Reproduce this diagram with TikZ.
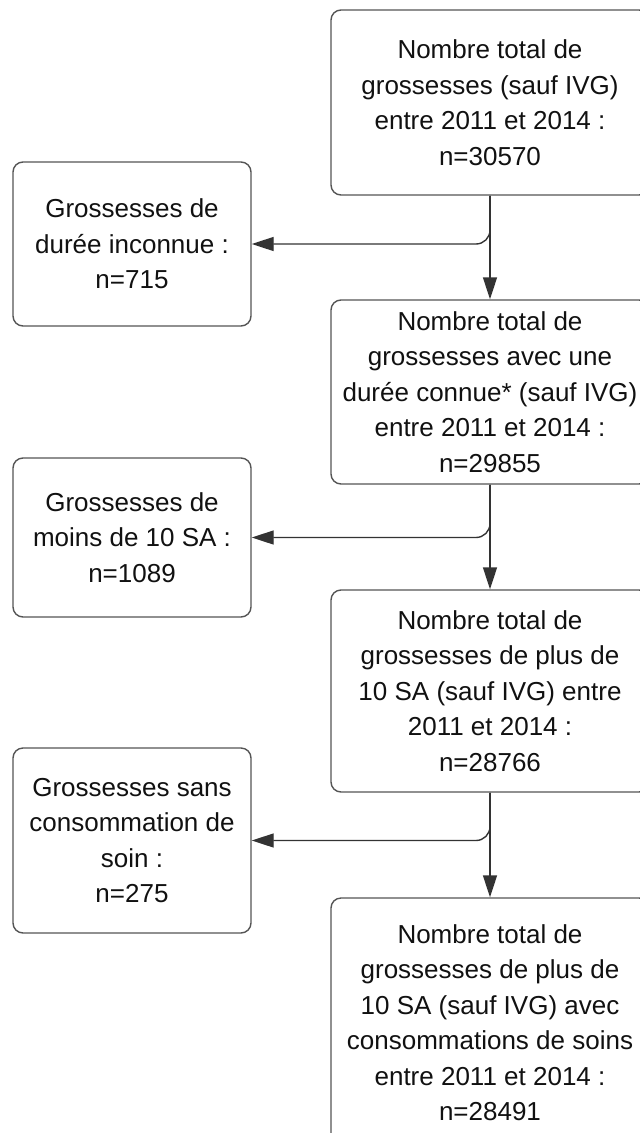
\documentclass[tikz,border=0pt]{standalone}
\usepackage{fontspec}
\setmainfont{Liberation Sans}
\usetikzlibrary{arrows.meta}
\definecolor{boxgray}{HTML}{555555}
\definecolor{linecol}{HTML}{333333}
\definecolor{textcol}{HTML}{111111}
\begin{document}
\begin{tikzpicture}[x=1pt,y=-1pt,
  box/.style={draw=boxgray, line width=1.4pt, rounded corners=10pt, align=center,
    text=textcol, font=\fontsize{26}{35.5}\selectfont, inner sep=0pt},
  rbox/.style={box, minimum width=318pt},
  lbox/.style={box, minimum width=238pt},
  flow/.style={draw=linecol, line width=1.4pt, -{Triangle[length=22pt,width=14pt]}},
  branch/.style={flow, rounded corners=14pt}]
\useasboundingbox (0,0) rectangle (640,1133);
\fill[white] (0,0) rectangle (640,1133);
\clip (0,0) rectangle (640,1133);

\node[rbox, minimum height=185pt] (r1) at (490,102.5)
  {Nombre total de\\grossesses (sauf IVG)\\entre 2011 et 2014 :\\n=30570};
\node[rbox, minimum height=184pt] (r2) at (490,392)
  {Nombre total de\\grossesses avec une\\durée connue* (sauf IVG)\\entre 2011 et 2014 :\\n=29855};
\node[rbox, minimum height=202pt] (r3) at (490,691)
  {Nombre total de\\grossesses de plus de\\10 SA (sauf IVG) entre\\2011 et 2014 :\\n=28766};
\node[rbox, minimum height=249pt] (r4) at (490,1022.5)
  {Nombre total de\\grossesses de plus de\\10 SA (sauf IVG) avec\\consommations de soins\\entre 2011 et 2014 :\\n=28491};

\node[lbox, minimum height=164pt] (l1) at (132,244)
  {Grossesses de\\durée inconnue :\\n=715};
\node[lbox, minimum height=159pt] (l2) at (132,537.5)
  {Grossesses de\\moins de 10 SA :\\n=1089};
\node[lbox, minimum height=185pt] (l3) at (132,840.5)
  {Grossesses sans\\consommation de\\soin :\\n=275};

\draw[flow] (r1.south) -- (r2.north);
\draw[branch] (r1.south) |- (l1.east);
\draw[flow] (r2.south) -- (r3.north);
\draw[branch] (r2.south) |- (l2.east);
\draw[flow] (r3.south) -- (r4.north);
\draw[branch] (r3.south) |- (l3.east);
\end{tikzpicture}
\end{document}
